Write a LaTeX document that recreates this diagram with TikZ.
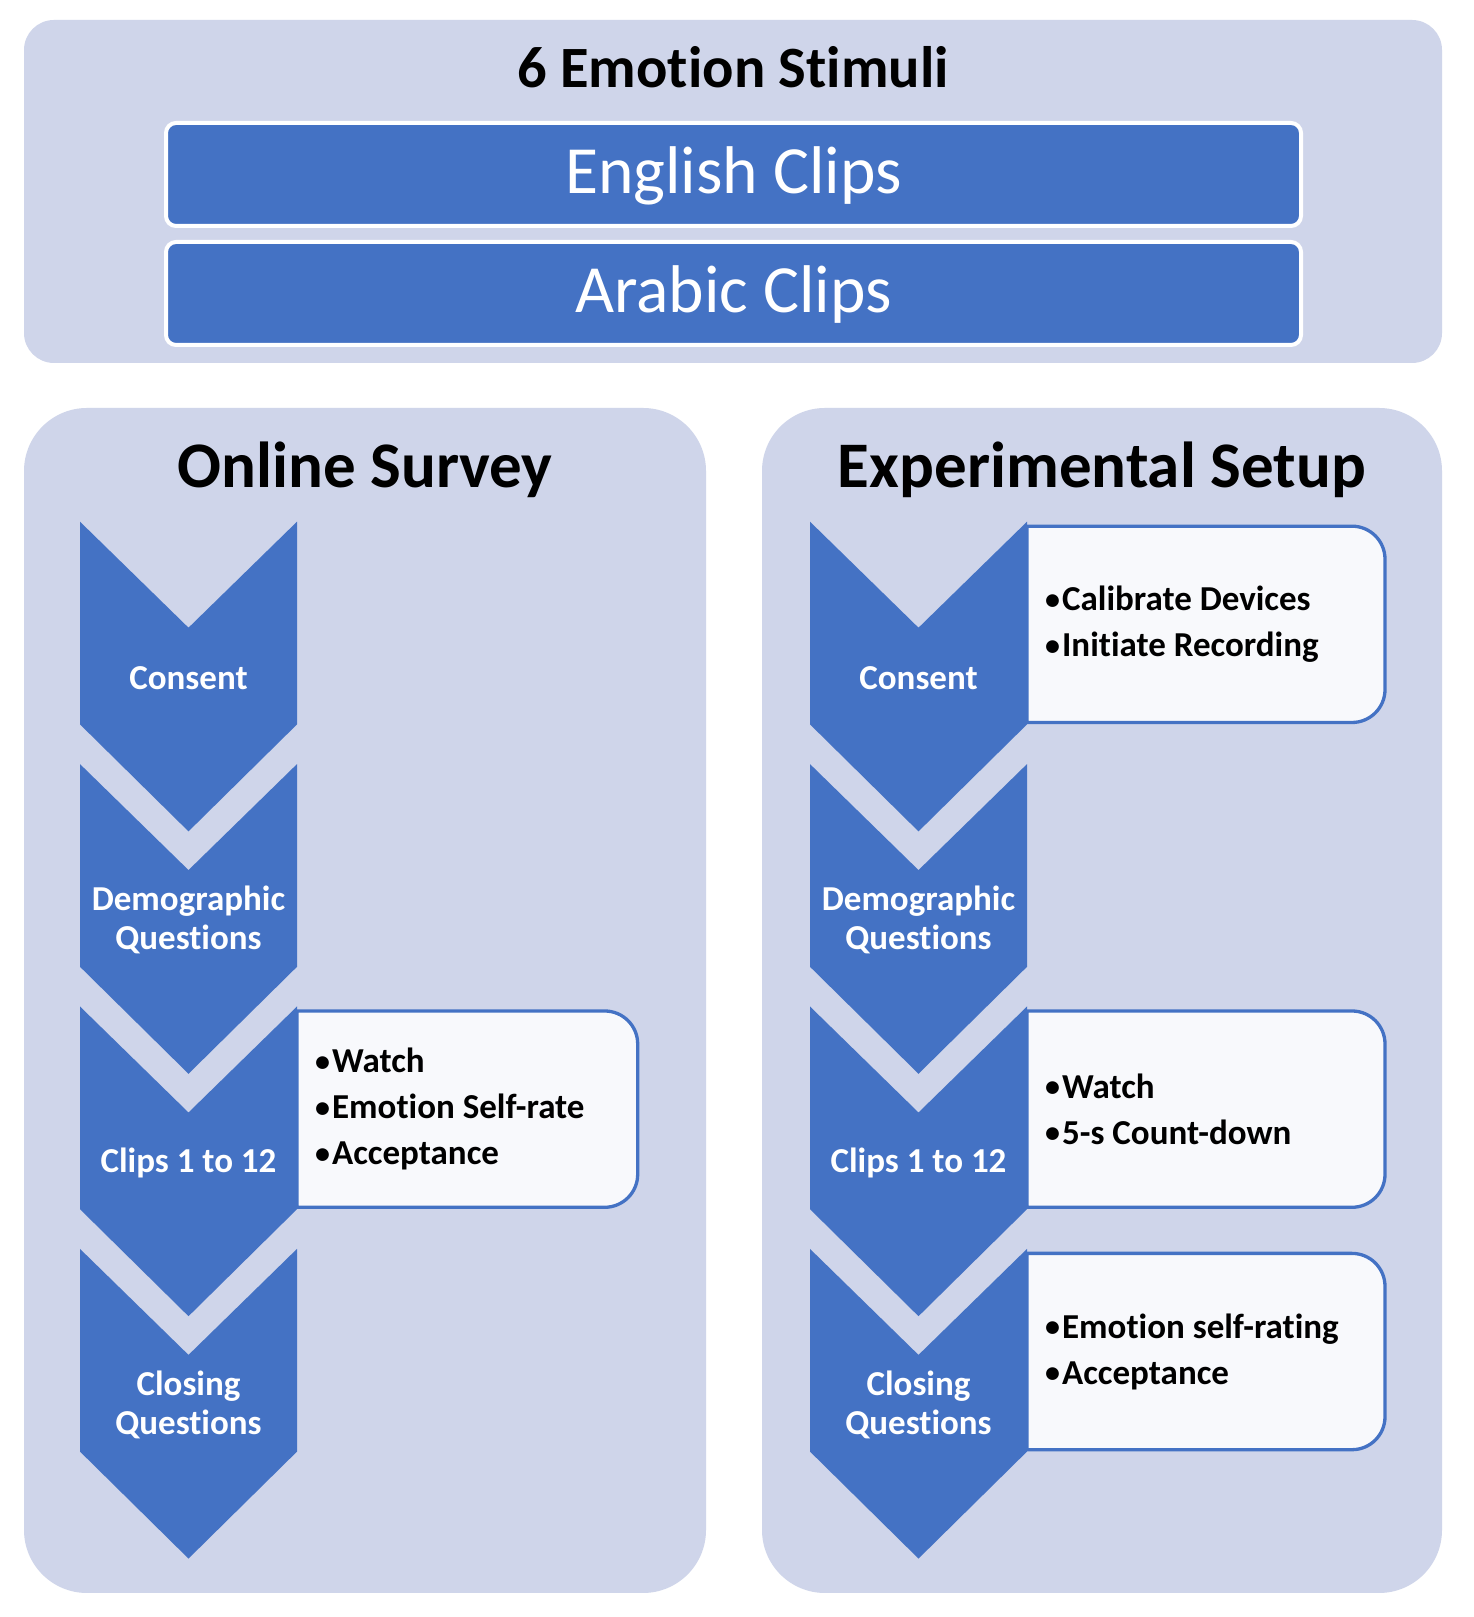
\documentclass[tikz,border=0pt]{standalone}
\usepackage{fontspec}
\setmainfont{Carlito}[Ligatures=NoCommon]
\definecolor{panelbg}{HTML}{CFD5EA}
\definecolor{accent}{HTML}{4472C4}
\definecolor{boxbg}{HTML}{F8F9FC}
\newcommand\chevshape[4]{%
  \fill[chevst] (#2,#3) -- (#2+108.5,#3-106) -- (#2+217,#3) -- (#2+217,#3-202.7)
    -- (#2+108.5,#3-309.7) -- (#2,#3-202.7) -- cycle;
  \node[chevlabel] (#1) at (#2+108.5,#3-156) {#4};
}
\newcommand\sidebox[5]{%
  \filldraw[boxst] (#2,#4-4.5) -- (#3-33,#4-4.5) arc[start angle=90,end angle=0,radius=33pt]
    -- (#3,#4-167.8) arc[start angle=0,end angle=-90,radius=33pt] -- (#2,#4-200.8) -- cycle;
  \node[bullets] (#1) at (#2+18,#4-102.7) {#5};
}
\newcommand\bul{\raisebox{1.5pt}{\fontsize{30}{30}\selectfont•}\kern2pt}
\begin{document}
\begin{tikzpicture}[x=1pt,y=1pt,
  panelst/.style={fill=panelbg},
  chevst/.style={fill=accent},
  chevlabel/.style={text=white, font=\bfseries\fontsize{35}{39}\selectfont, align=center, inner sep=0pt},
  bullets/.style={text=black, font=\bfseries\fontsize{35}{46}\selectfont, align=left, inner sep=0pt, anchor=west},
  boxst/.style={fill=boxbg, draw=accent, line width=3.3pt},
  clipbox/.style={fill=accent, draw=white, line width=4pt, rounded corners=10pt, minimum width=1135pt, minimum height=103pt, inner sep=0pt},
  cliptext/.style={text=white, font=\fontsize{67.5}{80}\selectfont, inner sep=0pt, anchor=base},
  toptitle/.style={text=black, font=\bfseries\fontsize{58.5}{70}\selectfont, inner sep=0pt, anchor=base},
  paneltitle/.style={text=black, font=\bfseries\fontsize{65}{78}\selectfont, inner sep=0pt, anchor=base}]
\useasboundingbox[fill=white] (0,0) rectangle (1473,1617);
% panels
\fill[panelst, rounded corners=30pt] (24,1254) rectangle (1442,1597);
\fill[panelst, rounded corners=63pt] (24,24) rectangle (706,1209);
\fill[panelst, rounded corners=63pt] (762,24) rectangle (1442,1209);
% top panel
\node[toptitle] (stimuli) at (733,1529.3) {6 Emotion Stimuli};
\node[clipbox] (english) at (733.5,1442.5) {};
\node[cliptext] (englishlbl) at (733.5,1423.7) {English Clips};
\node[clipbox] (arabic) at (733.5,1323.5) {};
\node[cliptext] (arabiclbl) at (733.5,1304.3) {Arabic Clips};
% panel titles
\node[paneltitle] (online) at (365,1129.7) {Online Survey};
\node[paneltitle] (experimental) at (1102,1129.7) {Experimental Setup};
% side boxes (behind chevrons)
\sidebox{osclips}{297}{637.7}{610.5}{\bul Watch\\\bul Emotion Self-rate\\\bul Acceptance}
\sidebox{esconsent}{1027}{1385}{1095.3}{\bul Calibrate Devices\\\bul Initiate Recording}
\sidebox{esclips}{1027}{1385}{610.5}{\bul Watch\\\bul 5-s Count-down}
\sidebox{esclosing}{1027}{1385}{368.1}{\bul Emotion self-rating\\\bul Acceptance}
% online survey chevrons
\chevshape{osc1}{80}{1095.3}{Consent}
\chevshape{osc2}{80}{852.9}{Demographic\\Questions}
\chevshape{osc3}{80}{610.5}{Clips 1 to 12}
\chevshape{osc4}{80}{368.1}{Closing\\Questions}
% experimental setup chevrons
\chevshape{esc1}{810}{1095.3}{Consent}
\chevshape{esc2}{810}{852.9}{Demographic\\Questions}
\chevshape{esc3}{810}{610.5}{Clips 1 to 12}
\chevshape{esc4}{810}{368.1}{Closing\\Questions}
\end{tikzpicture}
\end{document}
